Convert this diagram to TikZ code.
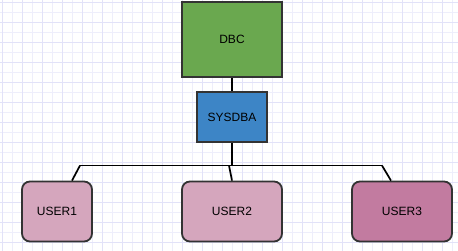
\documentclass[tikz,border=0pt]{standalone}
\usepackage{fontspec}
\setmainfont{Liberation Sans}
\definecolor{gridminor}{HTML}{EEEEFB}
\definecolor{gridmajor}{HTML}{E2E2F8}
\definecolor{bordc}{HTML}{333333}
\definecolor{dbcg}{HTML}{6AA84F}
\definecolor{sysb}{HTML}{3D85C6}
\definecolor{ulight}{HTML}{D5A6BD}
\definecolor{udark}{HTML}{C27BA0}
\tikzset{
  box/.style={draw=bordc, line width=1.8pt, inner sep=0pt, font=\fontsize{12}{14}\selectfont},
  ubox/.style={box, rounded corners=8pt, fill=ulight},
  conn/.style={draw=black, line width=1.7pt},
}
\begin{document}
\begin{tikzpicture}[x=1pt,y=-1pt]
\useasboundingbox (0,0) rectangle (458,251);
\fill[white] (0,0) rectangle (458,251);
\foreach \i in {2,12,...,452} { \draw[gridminor, line width=0.8pt] (\i,0) -- (\i,251); }
\foreach \j in {2,12,...,250} { \draw[gridminor, line width=0.8pt] (0,\j) -- (458,\j); }
\foreach \i in {2,22,...,452} { \draw[gridmajor, line width=0.8pt] (\i,0) -- (\i,251); }
\foreach \j in {2,22,...,250} { \draw[gridmajor, line width=0.8pt] (0,\j) -- (458,\j); }
\node[box, fill=dbcg, minimum width=100pt, minimum height=75pt] (dbc) at (232,39.5) {DBC};
\node[box, fill=sysb, minimum width=70pt, minimum height=50pt] (sys) at (232,117) {SYSDBA};
\node[ubox, minimum width=70pt, minimum height=60pt] (u1) at (57,211.5) {USER1};
\node[ubox, minimum width=100pt, minimum height=60pt] (u2) at (232,211.5) {USER2};
\node[ubox, fill=udark, minimum width=100pt, minimum height=60pt] (u3) at (402,211.5) {USER3};
\coordinate (bl) at (80,165.5);
\coordinate (bm) at (229,165.5);
\coordinate (br) at (382,165.5);
\draw[conn] (dbc.south) -- (sys.north);
\draw[conn] (sys.south) -- (232,165.5);
\draw[conn] (bl) -- (br);
\draw[conn] (bl) -- (u1.north -| 72,0);
\draw[conn] (bm) -- (u2.north);
\draw[conn] (br) -- (u3.north -| 391,0);
\end{tikzpicture}
\end{document}
